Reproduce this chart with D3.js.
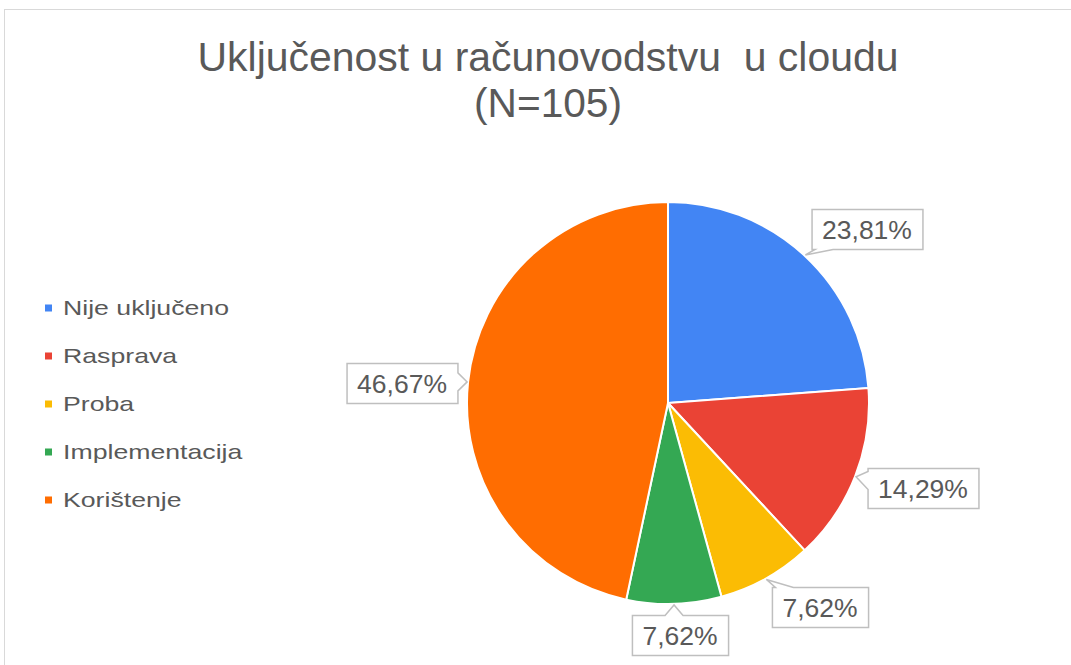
<!DOCTYPE html>
<html>
<head>
<meta charset="utf-8">
<script src="https://cdn.jsdelivr.net/npm/d3@7"></script>
<style>
  body { margin: 0; background: #fff; }
  svg text { font-family: "Liberation Sans", Arial, sans-serif; fill: #595959; }
</style>
</head>
<body>
<div id="body"></div>
<script>
// data
var categories = ["Nije uključeno", "Rasprava", "Proba", "Implementacija", "Korištenje"];
var counts = [25, 15, 8, 8, 49];
var percentLabels = ["23,81%", "14,29%", "7,62%", "7,62%", "46,67%"];
var colors = ["#4285f4", "#ea4335", "#fbbc04", "#34a853", "#ff6d01"];
var titleLines = ["Uključenost u računovodstvu  u cloudu", "(N=105)"];

// small angle nudges (degrees) for where the data labels sit
var labelNudgeDeg = [6, -3, -7.6, -1.3, -1.6];

var width = 1071, height = 665;
var cx = 668, cy = 403, radius = 201;

var svg = d3.select("#body")
  .append("svg")
  .attr("width", width)
  .attr("height", height);

// outer frame
svg.append("rect")
  .attr("x", 4.5).attr("y", 9.5)
  .attr("width", 1100).attr("height", 700)
  .attr("fill", "none")
  .attr("stroke", "#d9d9d9");

// title (keeps the double space of the original)
var titleWidths = [701, 148];
svg.selectAll(".title")
  .data(titleLines)
  .enter().append("text")
  .attr("class", "title")
  .attr("x", 548)
  .attr("y", function(d, i) { return 71 + i * 46; })
  .attr("text-anchor", "middle")
  .attr("textLength", function(d, i) { return titleWidths[i]; })
  .attr("lengthAdjust", "spacingAndGlyphs")
  .style("font-size", "40px")
  .style("white-space", "pre")
  .text(function(d) { return d; });

// legend
var legend = svg.append("g").attr("transform", "translate(45, 308)");
var item = legend.selectAll(".item")
  .data(categories)
  .enter().append("g")
  .attr("class", "item")
  .attr("transform", function(d, i) { return "translate(0," + (i * 48) + ")"; });
item.append("rect")
  .attr("x", 0).attr("y", -3.5)
  .attr("width", 7).attr("height", 7)
  .attr("fill", function(d, i) { return colors[i]; });
item.append("text")
  .attr("x", 18)
  .attr("y", 7)
  .style("font-size", "21px")
  .text(function(d) { return d; })
  .each(function() {
    // the legend type is set wide in the original
    var w = this.getComputedTextLength();
    d3.select(this).attr("textLength", w * 1.27).attr("lengthAdjust", "spacingAndGlyphs");
  });

// pie
var pie = d3.pie().sort(null).value(function(d) { return d; });
var arcs = pie(counts);
var arc = d3.arc().innerRadius(0).outerRadius(radius);

var chart = svg.append("g")
  .attr("transform", "translate(" + cx + "," + cy + ")");

chart.selectAll("path.slice")
  .data(arcs)
  .enter().append("path")
  .attr("class", "slice")
  .attr("d", arc)
  .attr("fill", function(d, i) { return colors[i]; })
  .attr("stroke", "#fff")
  .attr("stroke-width", 2);

// data labels with callouts
function clamp(v, a, b) { return Math.max(a, Math.min(b, v)); }

function calloutPath(x0, y0, x1, y1, ax, ay) {
  var mx = (x0 + x1) / 2, my = (y0 + y1) / 2;
  var hw = (x1 - x0) / 2, hh = (y1 - y0) / 2;
  var dx = ax - mx, dy = ay - my;
  var side;
  if (Math.abs(dx) / hw > Math.abs(dy) / hh) side = dx > 0 ? "right" : "left";
  else side = dy > 0 ? "bottom" : "top";
  var h = 9, b;
  var pts = [[x0, y0]];
  if (side == "top") { b = clamp(ax, x0 + h + 3, x1 - h - 3); pts.push([b - h, y0], [ax, ay], [b + h, y0]); }
  pts.push([x1, y0]);
  if (side == "right") { b = clamp(ay, y0 + h + 3, y1 - h - 3); pts.push([x1, b - h], [ax, ay], [x1, b + h]); }
  pts.push([x1, y1]);
  if (side == "bottom") { b = clamp(ax, x0 + h + 3, x1 - h - 3); pts.push([b + h, y1], [ax, ay], [b - h, y1]); }
  pts.push([x0, y1]);
  if (side == "left") { b = clamp(ay, y0 + h + 3, y1 - h - 3); pts.push([x0, b + h], [ax, ay], [x0, b - h]); }
  return "M" + pts.map(function(p) { return p[0] + "," + p[1]; }).join("L") + "Z";
}

var labels = chart.selectAll("g.label")
  .data(arcs)
  .enter().append("g")
  .attr("class", "label");

labels.each(function(d, i) {
  var g = d3.select(this);
  var t = g.append("text")
    .attr("text-anchor", "middle")
    .style("font-size", "26.5px")
    .text(percentLabels[i]);
  var tw = t.node().getComputedTextLength();
  var w = tw + 21, h = 40;
  var mid = (d.startAngle + d.endAngle) / 2;
  var a = mid + labelNudgeDeg[i] * Math.PI / 180;
  var s = Math.sin(a), c = Math.cos(a);
  var dist = radius + 8.5 + Math.abs(s) * w / 2 + Math.abs(c) * h / 2;
  var lx = Math.round(s * dist), ly = Math.round(-c * dist);
  var ax = Math.sin(mid) * (radius + 1), ay = -Math.cos(mid) * (radius + 1);
  g.insert("path", "text")
    .attr("d", calloutPath(lx - w / 2 + 0.5, ly - h / 2 + 0.5, lx + w / 2 + 0.5, ly + h / 2 + 0.5, ax, ay))
    .attr("fill", "#fff")
    .attr("stroke", "#bfbfbf")
    .attr("stroke-width", 1.5);
  t.attr("x", lx).attr("y", ly + 9.5);
});
</script>
</body>
</html>
